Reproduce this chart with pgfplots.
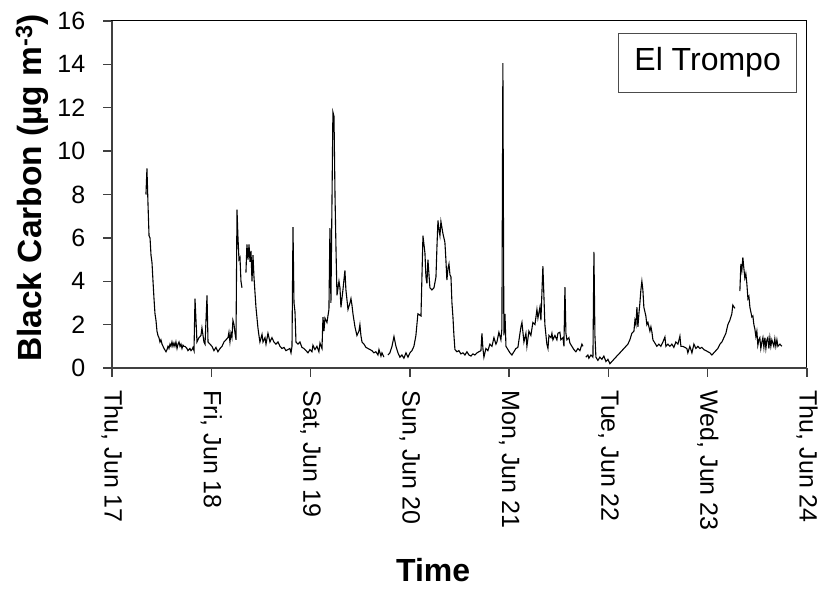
\documentclass[border=0pt]{standalone}
\usepackage{pgfplots}
\pgfplotsset{compat=1.18}
\usepackage{fontspec}
\setmainfont{Liberation Sans}
\pgfplotstableread{
day bc
0.342 8.0
0.352 9.2
0.363 7.5
0.373 6.1
0.383 6.0
0.393 5.2
0.403 4.85
0.413 4.0
0.423 3.2
0.433 2.5
0.443 2.2
0.453 1.7
0.463 1.5
0.473 1.4
0.483 1.2
0.493 1.3
0.504 1.1
0.514 1.0
0.524 0.9
0.544 0.75
0.554 0.85
0.564 1.0
0.574 0.9
0.584 1.1
0.594 1.0
0.604 1.2
0.614 1.0
0.624 1.15
0.634 1.0
0.644 1.2
0.655 0.9
0.665 1.1
0.675 1.2
0.685 1.0
0.695 1.1
0.705 0.9
0.715 1.05
0.725 1.0
0.735 1.0
0.745 0.95
0.755 0.9
0.765 0.8
0.775 0.85
0.785 0.9
0.796 0.8
0.806 0.85
0.816 0.95
0.826 0.8
0.836 3.2
0.856 1.2
0.876 1.4
0.896 1.5
0.906 1.85
0.926 1.2
0.937 1.1
0.957 3.35
0.967 1.2
0.987 1.1
1.007 1.0
1.027 0.8
1.047 0.95
1.067 0.75
1.088 0.9
1.108 1.0
1.128 1.2
1.148 1.3
1.168 1.4
1.178 1.65
1.188 1.2
1.198 1.6
1.208 1.4
1.218 2.2
1.229 2.0
1.239 1.6
1.249 1.3
1.259 7.3
1.269 6.0
1.279 5.0
1.289 5.1
1.299 4.0
1.309 3.7
1.329 nan
1.349 4.4
1.359 5.7
1.370 5.0
1.380 5.7
1.390 4.9
1.400 5.4
1.410 4.0
1.420 5.2
1.430 4.2
1.450 2.8
1.470 1.85
1.480 1.5
1.490 1.2
1.511 1.55
1.521 1.2
1.541 1.4
1.551 1.1
1.571 1.6
1.591 1.2
1.611 1.4
1.631 1.2
1.651 1.1
1.672 1.2
1.692 1.0
1.712 0.9
1.732 0.95
1.752 0.8
1.772 0.85
1.792 0.9
1.803 0.7
1.813 1.0
1.823 6.5
1.833 3.0
1.843 2.6
1.853 1.2
1.873 1.1
1.893 1.2
1.913 0.95
1.933 0.9
1.954 0.8
1.974 0.7
1.994 0.85
2.014 0.75
2.024 1.05
2.044 0.85
2.064 1.0
2.084 0.75
2.095 1.15
2.115 0.9
2.125 2.35
2.135 1.7
2.145 2.3
2.165 2.1
2.185 2.7
2.195 6.45
2.205 3.0
2.225 11.8
2.236 11.6
2.246 8.0
2.256 5.5
2.266 3.35
2.286 4.0
2.296 3.7
2.306 2.8
2.326 3.6
2.346 4.5
2.356 3.6
2.377 2.7
2.397 3.0
2.407 3.2
2.417 2.9
2.427 2.5
2.447 1.9
2.467 1.5
2.487 1.7
2.497 2.0
2.507 1.5
2.518 1.2
2.538 1.1
2.558 0.95
2.578 0.9
2.598 0.85
2.618 0.8
2.638 0.7
2.658 0.75
2.679 0.6
2.689 0.85
2.709 0.55
2.719 0.7
2.739 0.5
2.759 nan
2.779 0.6
2.799 0.7
2.820 1.0
2.840 1.45
2.860 1.0
2.880 0.7
2.900 0.5
2.920 0.6
2.940 0.45
2.961 0.7
2.981 0.5
3.001 0.7
3.021 0.8
3.041 1.0
3.061 1.5
3.081 2.5
3.112 2.4
3.132 6.1
3.152 5.3
3.162 4.2
3.172 3.9
3.182 5.0
3.202 3.7
3.222 3.6
3.243 3.7
3.263 4.2
3.273 5.6
3.283 6.8
3.293 6.4
3.303 6.1
3.313 6.75
3.333 6.2
3.353 5.8
3.363 5.0
3.373 4.05
3.384 4.6
3.394 4.8
3.404 4.3
3.414 4.2
3.424 3.0
3.434 2.35
3.444 1.5
3.454 0.85
3.474 0.75
3.494 0.8
3.514 0.65
3.535 0.7
3.555 0.6
3.575 0.75
3.595 0.6
3.615 0.55
3.635 0.65
3.655 0.6
3.676 0.7
3.696 0.75
3.716 0.8
3.726 1.6
3.736 0.9
3.746 0.5
3.766 0.9
3.786 0.8
3.806 1.1
3.827 1.0
3.847 1.4
3.867 1.1
3.877 1.2
3.897 1.65
3.917 1.3
3.927 1.8
3.937 14.06
3.947 1.5
3.958 2.5
3.968 1.0
3.988 0.85
4.008 0.7
4.028 0.6
4.048 0.75
4.068 0.9
4.088 0.95
4.109 1.6
4.119 1.9
4.129 2.1
4.149 1.2
4.169 1.6
4.179 1.0
4.199 1.7
4.219 1.5
4.239 2.1
4.260 2.0
4.280 2.7
4.290 2.3
4.310 2.8
4.320 2.2
4.340 4.7
4.360 2.0
4.380 1.1
4.391 0.9
4.401 1.5
4.421 1.4
4.431 1.6
4.441 1.3
4.461 1.5
4.481 1.3
4.491 1.6
4.511 1.65
4.521 1.3
4.542 1.4
4.552 1.0
4.562 3.73
4.572 1.6
4.582 1.3
4.602 1.4
4.612 1.15
4.632 1.0
4.652 0.85
4.672 0.75
4.693 0.9
4.713 0.8
4.733 1.1
4.743 1.0
4.758 nan
4.773 0.5
4.793 0.6
4.803 0.45
4.824 0.6
4.844 0.5
4.854 5.35
4.864 1.5
4.874 0.5
4.894 0.35
4.914 0.5
4.934 0.4
4.954 0.55
4.975 0.3
4.995 0.4
5.015 0.2
5.035 0.3
5.055 0.4
5.075 0.5
5.095 0.6
5.116 0.7
5.136 0.8
5.156 0.9
5.176 1.0
5.196 1.1
5.216 1.3
5.236 1.6
5.257 1.7
5.267 2.2
5.277 2.0
5.287 2.8
5.297 1.9
5.307 2.5
5.317 3.0
5.327 3.6
5.337 4.0
5.347 3.6
5.357 2.8
5.367 2.6
5.377 2.4
5.387 2.0
5.398 2.1
5.418 1.7
5.428 1.9
5.438 1.66
5.448 1.3
5.468 1.15
5.488 1.0
5.508 1.1
5.528 1.0
5.549 1.2
5.569 1.43
5.579 1.0
5.599 1.1
5.619 1.0
5.639 1.1
5.659 0.95
5.679 1.2
5.700 1.1
5.720 1.47
5.730 1.0
5.750 1.0
5.770 0.95
5.790 0.9
5.800 0.7
5.820 1.0
5.841 0.7
5.861 1.1
5.881 0.9
5.901 1.0
5.921 0.9
5.941 0.95
5.961 0.85
5.982 0.8
6.002 0.75
6.022 0.7
6.042 0.6
6.062 0.7
6.082 0.8
6.102 0.9
6.123 1.1
6.143 1.2
6.163 1.4
6.183 1.6
6.203 2.0
6.223 2.2
6.243 2.5
6.253 2.9
6.274 2.75
6.299 nan
6.324 3.55
6.334 4.8
6.344 4.5
6.354 5.1
6.364 4.6
6.374 4.15
6.384 4.35
6.394 3.9
6.405 3.2
6.415 3.3
6.425 2.8
6.445 2.35
6.455 2.4
6.465 2.0
6.475 1.8
6.485 1.45
6.495 1.7
6.505 1.05
6.515 1.3
6.525 1.4
6.535 0.9
6.546 1.2
6.556 1.4
6.566 0.95
6.576 1.4
6.586 0.9
6.596 1.3
6.606 1.4
6.616 0.9
6.626 1.4
6.636 1.0
6.646 1.3
6.666 1.0
6.676 1.35
6.686 1.0
6.697 1.3
6.707 1.0
6.727 1.1
6.747 1.0
}\bcdata
\begin{document}
\begin{tikzpicture}
\begin{axis}[
  at={(0,0)}, anchor=south west,
  scale only axis, width=695pt, height=347pt,
  xmin=0, xmax=7, ymin=0, ymax=16,
  xtick={0,1,2,3,4,5,6,7},
  xticklabels={{Thu, Jun 17},{Fri, Jun 18},{Sat, Jun 19},{Sun, Jun 20},{Mon, Jun 21},{Tue, Jun 22},{Wed, Jun 23},{Thu, Jun 24}},
  ytick={0,2,4,6,8,10,12,14,16},
  /pgf/number format/assume math mode=true,
  tick align=outside, tick pos=left,
  major tick length=8.5pt,
  tick style={line width=1.4pt, color=black!75},
  axis line style={black, line width=1pt},
  ticklabel style={font=\fontsize{25}{29}\selectfont},
  yticklabel style={anchor=east, inner sep=0pt, xshift=-18pt},
  xticklabel style={rotate=-90, anchor=west, inner sep=0pt, xshift=14pt},
  unbounded coords=jump,
  clip=false,
]
\addplot[black, line width=1.1pt, mark=none] table[x=day, y=bc] {\bcdata};
\draw[black!75, line width=2pt] (rel axis cs:0,1) -- (rel axis cs:0,0) -- (rel axis cs:1,0);
\node[draw=black!70, line width=0.8pt, minimum width=178pt, minimum height=59pt, inner sep=0pt,
  font=\fontsize{32}{38}\selectfont] at (axis description cs:0.857,0.880) {El Trompo};
\node[rotate=90, anchor=center, font=\fontsize{33.5}{38}\selectfont\bfseries]
  at (axis description cs:-0.115,0.519) {Black Carbon (µg m\textsuperscript{-3})};
\node[anchor=center, font=\fontsize{32}{36}\selectfont\bfseries]
  at (axis description cs:0.462,-0.582) {Time};
\end{axis}
\pgfresetboundingbox
\useasboundingbox (-112pt,-221pt) rectangle (712pt,368pt);
\end{tikzpicture}
\end{document}
